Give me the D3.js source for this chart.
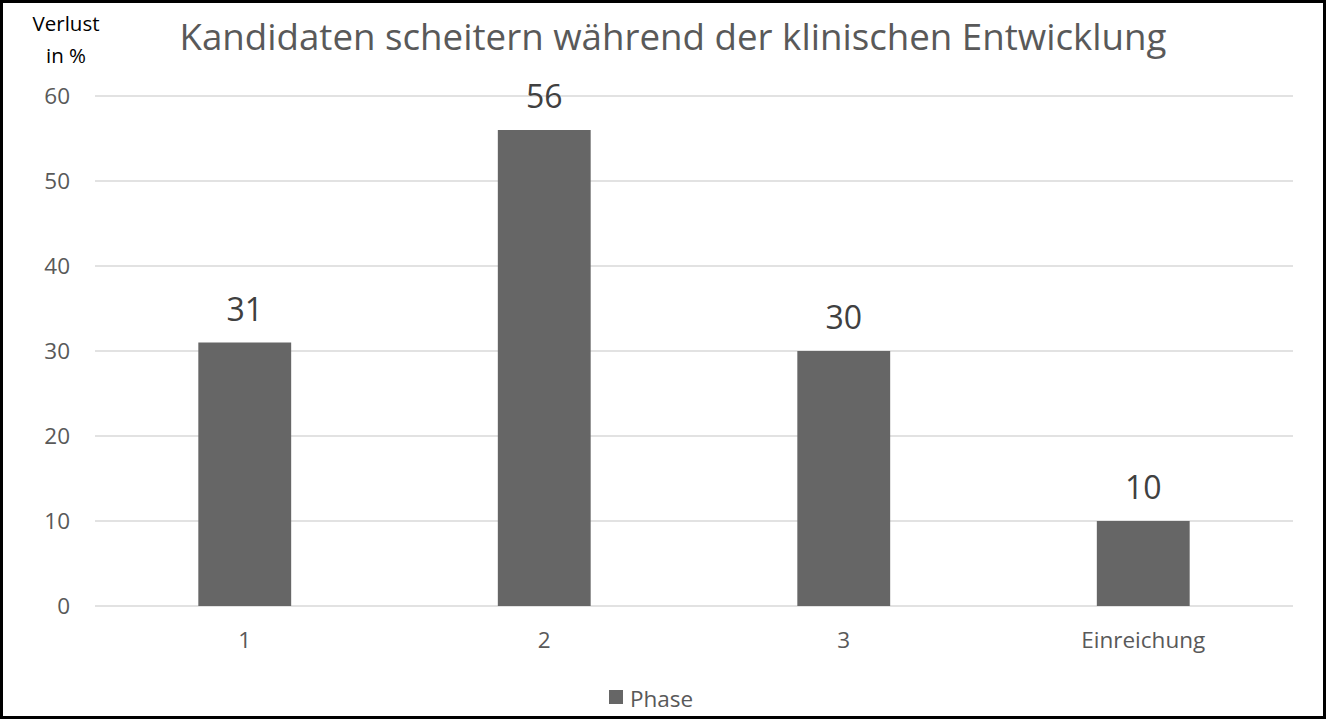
<!DOCTYPE html>
<html><head><meta charset="utf-8">
<script src="https://cdn.jsdelivr.net/npm/d3@7"></script>
<style>body{margin:0;background:#fff;}svg{display:block;}</style>
</head><body>
<svg id="chart" width="1328" height="722"></svg>
<script>
const categories = ["1", "2", "3", "Einreichung"];
const values = [31, 56, 30, 10];
const yTicks = [0, 10, 20, 30, 40, 50, 60];
const title = "Kandidaten scheitern während der klinischen Entwicklung";
const yLabelLines = ["Verlust", "in %"];
const seriesName = "Phase";

const W = 1328, H = 722;
const svg = d3.select("#chart");
const font = "'Open Sans', 'Noto Sans', sans-serif";
const m = {left: 95, right: 35, top: 96, bottom: 116};

svg.append("rect").attr("x", 1.5).attr("y", 1.5).attr("width", W - 5).attr("height", H - 6)
  .attr("fill", "#fff").attr("stroke", "#000").attr("stroke-width", 3);

const x = d3.scaleBand().domain(categories).range([m.left, W - m.right]).paddingInner(0.69).paddingOuter(0.345);
const y = d3.scaleLinear().domain([0, 60]).range([H - m.bottom, m.top]);

// grid
svg.append("g").selectAll("line").data(yTicks).join("line")
  .attr("x1", m.left).attr("x2", W - m.right)
  .attr("y1", d => y(d)).attr("y2", d => y(d))
  .attr("stroke", "#d9d9d9").attr("stroke-width", 1.5);

// y axis labels
const yAxis = svg.append("g").attr("transform", `translate(${m.left},0)`)
  .call(d3.axisLeft(y).tickValues(yTicks).tickSize(0).tickPadding(25));
yAxis.select(".domain").remove();
yAxis.selectAll("text").attr("font-family", font).attr("font-size", 22.5).attr("fill", "#595959");

// bars
svg.append("g").selectAll("rect").data(values).join("rect")
  .attr("x", (d, i) => x(categories[i]))
  .attr("width", x.bandwidth())
  .attr("y", d => y(d))
  .attr("height", d => y(0) - y(d))
  .attr("fill", "#666666");

// data labels
svg.append("g").selectAll("text").data(values).join("text")
  .attr("x", (d, i) => x(categories[i]) + x.bandwidth() / 2)
  .attr("y", d => y(d) - 22)
  .attr("text-anchor", "middle")
  .attr("font-family", font).attr("font-size", 32).attr("fill", "#404040")
  .text(d => d);

// x axis
const xAxis = svg.append("g").attr("transform", `translate(0,${y(0)})`)
  .call(d3.axisBottom(x).tickSize(0).tickPadding(26));
xAxis.select(".domain").remove();
xAxis.selectAll("text").attr("font-family", font).attr("font-size", 22.5).attr("fill", "#595959");

// title
svg.append("text").attr("x", 673).attr("y", 50).attr("text-anchor", "middle")
  .attr("font-family", font).attr("font-size", 36.7).attr("fill", "#595959")
  .text(title);

// y label
svg.append("g").selectAll("text").data(yLabelLines).join("text")
  .attr("x", 66).attr("y", (d, i) => 31 + i * 32).attr("text-anchor", "middle")
  .attr("font-family", font).attr("font-size", 20.5).attr("fill", "#000")
  .text(d => d);

// legend
const lg = svg.append("g");
lg.append("rect").attr("x", 609).attr("y", 690).attr("width", 14).attr("height", 14).attr("fill", "#666666");
lg.append("text").attr("x", 630).attr("y", 707).attr("font-family", font).attr("font-size", 22.5).attr("fill", "#595959").text(seriesName);
</script>
</body></html>
